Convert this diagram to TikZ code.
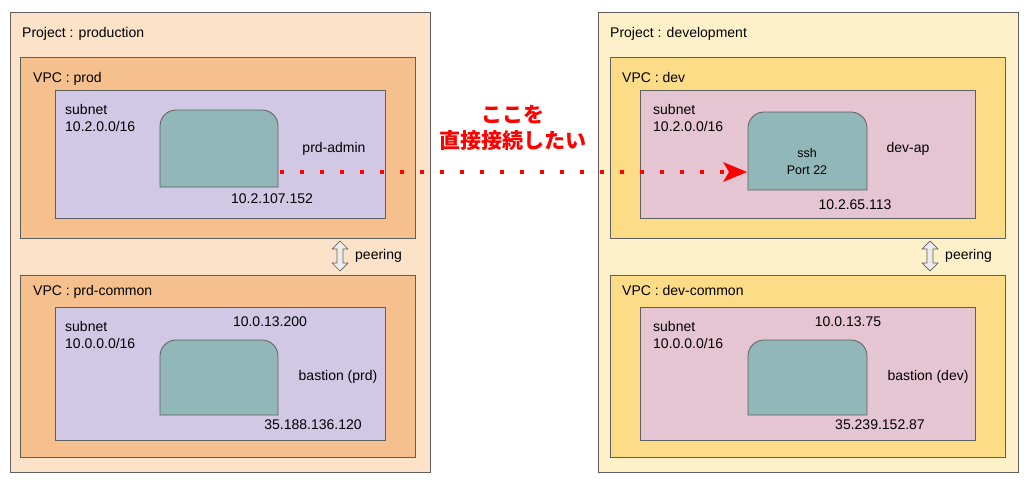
\documentclass[tikz,border=0pt]{standalone}
\usepackage{fontspec}
\setmainfont{Liberation Sans}
\newfontfamily\cjk{Noto Sans CJK JP}
\usetikzlibrary{arrows.meta}
\definecolor{projL}{HTML}{FBE2C8}
\definecolor{vpcL}{HTML}{F5C08E}
\definecolor{subL}{HTML}{D1C8E5}
\definecolor{projR}{HTML}{FEF1C9}
\definecolor{vpcR}{HTML}{FDDC87}
\definecolor{subR}{HTML}{E6C5D3}
\definecolor{inst}{HTML}{92B7B9}
\definecolor{edge}{HTML}{5F5F5F}
\tikzset{
 box/.style={draw=edge, line width=0.8pt},
 lbl/.style={anchor=north west, inner sep=0pt, font=\fontsize{14}{17}\selectfont, align=left},
 txt/.style={inner sep=0pt, font=\fontsize{14}{17}\selectfont, align=center},
 peer/.style={draw=edge, fill=gray!15, line width=0.7pt, line join=round},
}
\newcommand{\inst}[4]{% x1 y1 x2 y2
 \draw[box, fill=inst] (#1,#4) -- (#1,#2+16) arc[start angle=180,end angle=270,radius=16] -- (#3-16,#2) arc[start angle=270,end angle=360,radius=16] -- (#3,#4) -- cycle;}
\newcommand{\peerarrow}[2]{% center x, center y
 \draw[peer] (#1,#2-15) -- (#1+8,#2-7) -- (#1+3,#2-7) -- (#1+3,#2+7) -- (#1+8,#2+7) -- (#1,#2+15) -- (#1-8,#2+7) -- (#1-3,#2+7) -- (#1-3,#2-7) -- (#1-8,#2-7) -- cycle;}
\begin{document}
\begin{tikzpicture}[x=1pt,y=-1pt]
\useasboundingbox (0,0) rectangle (1024,485);
% left
\draw[box, fill=projL] (10,12) rectangle (430,472);
\node[lbl] (pl) at (22,27) {Project : production};
\draw[box, fill=vpcL] (20,57) rectangle (415,238);
\node[lbl] (v1) at (33,72) {VPC : prod};
\draw[box, fill=subL] (55,90) rectangle (385,218);
\node[lbl] (s1) at (65,104) {subnet\\10.2.0.0/16};
\inst{160}{110}{278}{187}
\node[txt] (n1) at (334,149) {prd-admin};
\node[txt] (i1) at (272,199) {10.2.107.152};
\peerarrow{340}{256}
\node[txt, anchor=west] (p1) at (355,256) {peering};
\draw[box, fill=vpcL] (20,275) rectangle (415,457);
\node[lbl] (v2) at (33,285) {VPC : prd-common};
\draw[box, fill=subL] (55,307) rectangle (385,440);
\node[lbl] (s2) at (65,321) {subnet\\10.0.0.0/16};
\inst{160}{340}{278}{415}
\node[txt] (i2) at (270,322) {10.0.13.200};
\node[txt] (n2) at (338,377) {bastion (prd)};
\node[txt] (i3) at (313,425) {35.188.136.120};
% right
\draw[box, fill=projR] (598,12) rectangle (1018,472);
\node[lbl] (pr) at (610,27) {Project : development};
\draw[box, fill=vpcR] (610,57) rectangle (1005,238);
\node[lbl] (v3) at (622,72) {VPC : dev};
\draw[box, fill=subR] (640,90) rectangle (975,218);
\node[lbl] (s3) at (653,104) {subnet\\10.2.0.0/16};
\inst{748}{112}{867}{190}
\node[txt, font=\fontsize{12.5}{17}\selectfont] (ssh) at (807,162) {ssh\\Port 22};
\node[txt] (n3) at (908,149) {dev-ap};
\node[txt] (i4) at (855,205) {10.2.65.113};
\peerarrow{930}{256}
\node[txt, anchor=west] (p2) at (945,256) {peering};
\draw[box, fill=vpcR] (610,275) rectangle (1005,457);
\node[lbl] (v4) at (622,285) {VPC : dev-common};
\draw[box, fill=subR] (640,307) rectangle (975,440);
\node[lbl] (s4) at (653,321) {subnet\\10.0.0.0/16};
\inst{748}{340}{867}{415}
\node[txt] (i5) at (848,322) {10.0.13.75};
\node[txt] (n4) at (928,377) {bastion (dev)};
\node[txt] (i6) at (880,425) {35.239.152.87};
% connection
\coordinate (a) at (280,172);
\coordinate (b) at (747,172);
\draw[red, line width=4pt, dash pattern=on 4pt off 16pt, -{Stealth[length=24pt,width=20pt,inset=6pt,line width=0pt]}] (a) -- (b);
\node[txt, text=red, font=\cjk\bfseries\fontsize{21}{26}\selectfont] (msg) at (513,128) {ここを\\直接接続したい};
\end{tikzpicture}
\end{document}
